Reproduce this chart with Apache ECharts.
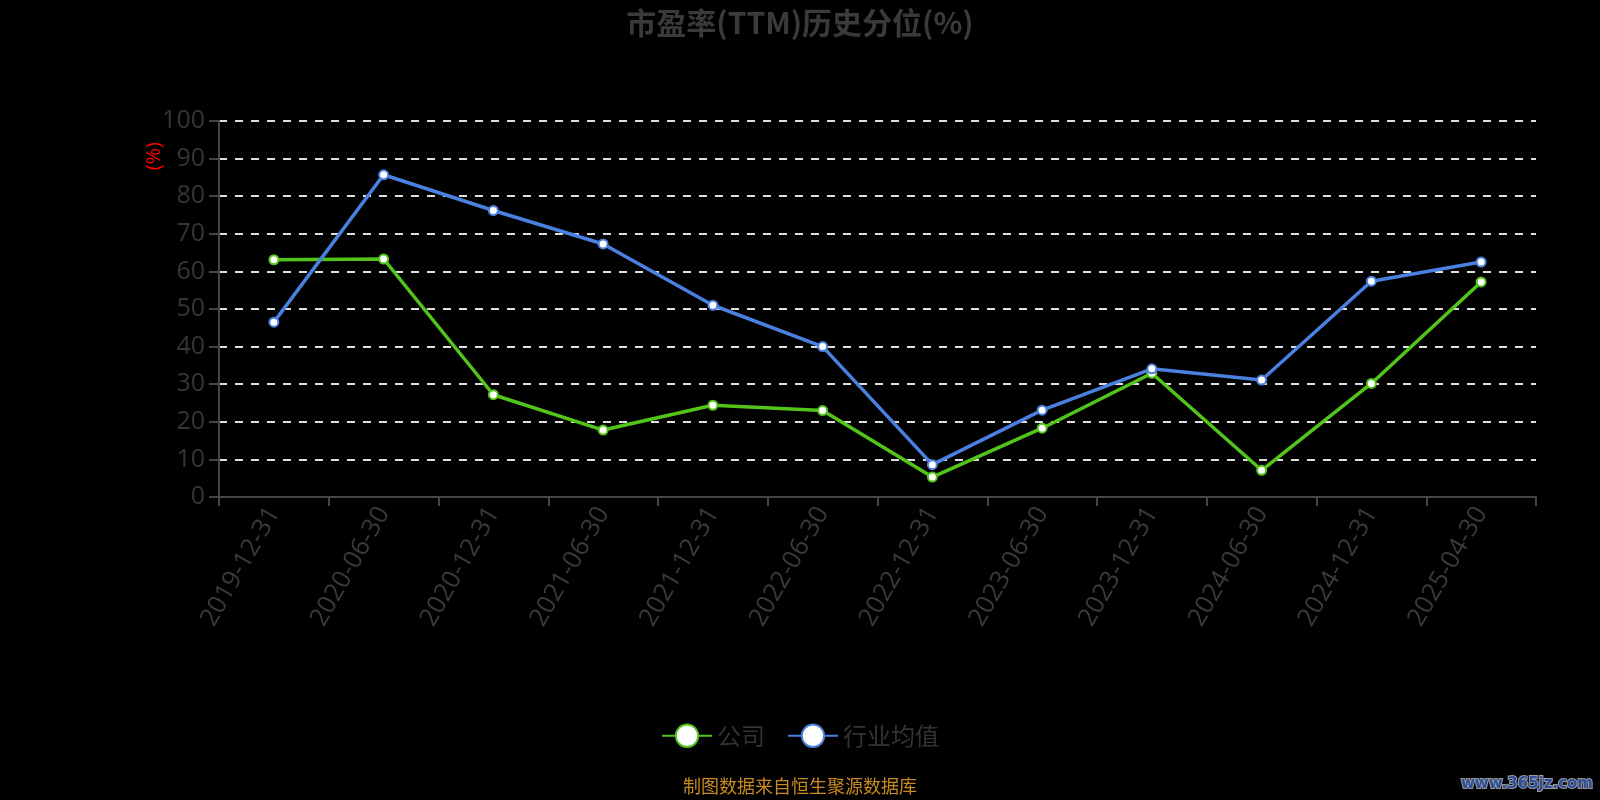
<!DOCTYPE html>
<html>
<head>
<meta charset="utf-8">
<script src="https://cdn.jsdelivr.net/npm/echarts@6/dist/echarts.min.js"></script>
<style>
html,body{margin:0;padding:0;background:#000;}
#chart{width:1600px;height:800px;}
</style>
</head>
<body>
<div id="chart"></div>
<script>
const categories = ['2019-12-31','2020-06-30','2020-12-31','2021-06-30','2021-12-31','2022-06-30','2022-12-31','2023-06-30','2023-12-31','2024-06-30','2024-12-31','2025-04-30'];
const companyValues = [63.1, 63.3, 27.2, 17.8, 24.4, 23.0, 5.3, 18.3, 32.9, 7.1, 30.2, 57.2];
const industryValues = [46.5, 85.7, 76.2, 67.3, 51.0, 40.0, 8.6, 23.1, 34.1, 31.1, 57.4, 62.5];
const seriesNames = ['公司', '行业均值'];
const titleText = '市盈率(TTM)历史分位(%)';
const sourceText = '制图数据来自恒生聚源数据库';
const watermarkText = 'www.365jz.com';
const yAxisName = '(%)';

const chart = echarts.init(document.getElementById('chart'));
const font = "'Open Sans', 'Noto Sans CJK SC', sans-serif";
chart.setOption({
  backgroundColor: '#000',
  animation: false,
  title: {
    text: titleText,
    left: 'center',
    top: 3,
    textStyle: { color: '#3a3a3a', fontSize: 30, fontWeight: 'bold', fontFamily: "'Noto Sans CJK SC', sans-serif" }
  },
  legend: {
    data: seriesNames,
    bottom: 47,
    left: 'center',
    itemWidth: 50,
    itemHeight: 28,
    itemGap: 22,
    textStyle: { color: '#333', fontSize: 24, fontFamily: "'Noto Sans CJK SC', sans-serif" }
  },
  grid: { left: 219, right: 64, top: 121, bottom: 303, containLabel: false },
  xAxis: {
    type: 'category',
    data: categories,
    boundaryGap: true,
    axisLine: { lineStyle: { color: '#444', width: 2 } },
    axisTick: { show: true, length: 9, lineStyle: { color: '#444', width: 2 } },
    axisLabel: { rotate: 60, color: '#3a3a3a', fontSize: 25.5, margin: 12, fontFamily: font, interval: 0 }
  },
  yAxis: {
    type: 'value',
    min: 0,
    max: 100,
    interval: 10,
    axisLine: { show: true, lineStyle: { color: '#444', width: 2 } },
    axisTick: { show: true, length: 10, lineStyle: { color: '#444', width: 2 } },
    axisLabel: { color: '#353535', fontSize: 25, margin: 14, fontFamily: font },
    splitLine: { show: true, lineStyle: { color: '#ddd', width: 2, type: [8, 8] } }
  },
  graphic: [
    { type: 'text', left: 144, top: 142, rotation: Math.PI / 2, style: { text: yAxisName, fill: '#ff0000', fontSize: 20, fontFamily: font } },
    { type: 'text', left: 'center', top: 777, style: { text: sourceText, fill: '#c88a1e', fontSize: 18, fontFamily: "'Noto Sans CJK SC', sans-serif" } },
    { type: 'text', right: 6, top: 776, style: { text: watermarkText, fill: '#2c4f9e', stroke: '#9a9a9a', lineWidth: 2, fontSize: 15, fontWeight: 'bold', fontFamily: "'DejaVu Sans', sans-serif" } }
  ],
  series: [
    {
      name: seriesNames[0],
      type: 'line',
      data: companyValues,
      symbol: 'emptyCircle',
      symbolSize: 9,
      lineStyle: { color: '#52c41a', width: 3.5 },
      itemStyle: { color: '#52c41a', borderWidth: 2 }
    },
    {
      name: seriesNames[1],
      type: 'line',
      data: industryValues,
      symbol: 'emptyCircle',
      symbolSize: 9,
      lineStyle: { color: '#4a80e0', width: 3.5 },
      itemStyle: { color: '#4a80e0', borderWidth: 2 }
    }
  ]
});
</script>
</body>
</html>
